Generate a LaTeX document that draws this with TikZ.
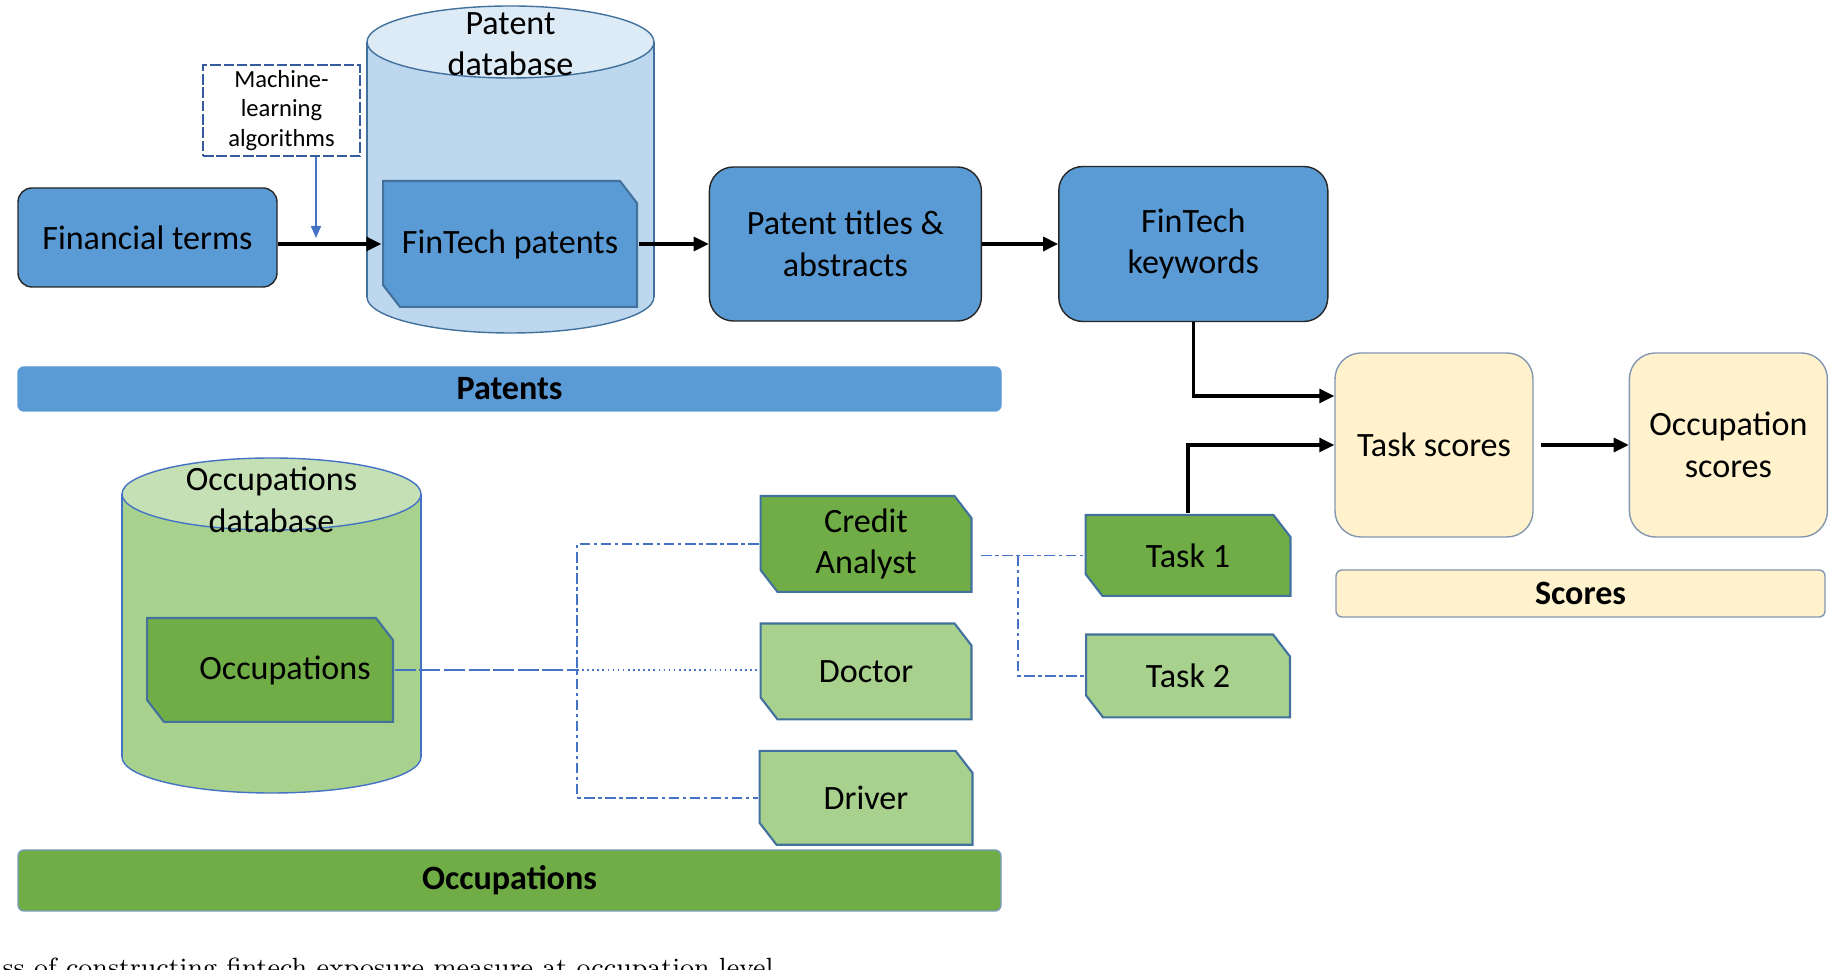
\documentclass[tikz,border=0pt]{standalone}
\usepackage{fontspec}
\newfontfamily\calibri{Carlito}
\usetikzlibrary{positioning,arrows.meta}

\definecolor{patblue}{HTML}{5B9BD5}
\definecolor{patline}{HTML}{41719C}
\definecolor{dbblue}{HTML}{BDD7EE}
\definecolor{dbtopblue}{HTML}{DDEBF7}
\definecolor{occgreen}{HTML}{70AD47}
\definecolor{lightgreen}{HTML}{A9D18E}
\definecolor{dbtopgreen}{HTML}{C5E0B4}
\definecolor{scorefill}{HTML}{FFF2CC}
\definecolor{scoreline}{HTML}{8497B0}
\definecolor{linkblue}{HTML}{4472C4}

\begin{document}
\begin{tikzpicture}[x=0.1mm,y=-0.1mm,
			>={Triangle[length=1.5mm,width=1.4mm]},
			every node/.style={
				align=center,
				inner sep=1pt,
				font=\calibri\fontsize{9.7}{11.8}\selectfont
			},
			stepbox/.style={draw=black!85,fill=patblue,rounded corners=2.4mm},
			snipbox/.style={path picture={
				\filldraw[fill=#1,draw=patline,line width=0.6pt]
					([shift={(0.3pt,-0.3pt)}]path picture bounding box.north west)
					--([shift={(-1.8mm,-0.3pt)}]path picture bounding box.north east)
					--([shift={(-0.3pt,-2.3mm)}]path picture bounding box.north east)
					--([shift={(-0.3pt,0.3pt)}]path picture bounding box.south east)
					--([shift={(1.8mm,0.3pt)}]path picture bounding box.south west)
					--([shift={(0.3pt,2.3mm)}]path picture bounding box.south west)
					--cycle;}},
			scorebox/.style={draw=scoreline,fill=scorefill,rounded corners=2.6mm,
				minimum width=19.8mm,minimum height=18.4mm},
			bar/.style={rounded corners=0.6mm,font=\calibri\bfseries\fontsize{9.7}{11.8}\selectfont},
			link/.style={linkblue,line width=0.45pt},
			dashdotlink/.style={link,dash pattern=on 3pt off 1pt on 1pt off 1pt},
			flow/.style={->,line width=0.9pt}]
			
			\useasboundingbox (0,0) rectangle (1843,970);
			
			% patent database
			\filldraw[fill=dbblue,draw=patline] (510.5,297) ellipse (143.5 and 36);
			\fill[dbblue] (367,42) rectangle (654,297);
			\draw[patline] (367,42) -- (367,297) (654,42) -- (654,297);
			\filldraw[fill=dbtopblue,draw=patline] (510.5,42) ellipse (143.5 and 36);
			\node(patdb) at (510.5,44){Patent\\database};
			
			% occupations database
			\filldraw[fill=lightgreen,draw=linkblue] (271.5,757) ellipse (149.5 and 36);
			\fill[lightgreen] (122,494) rectangle (421,757);
			\draw[linkblue] (122,494) -- (122,757) (421,494) -- (421,757);
			\filldraw[fill=dbtopgreen,draw=linkblue] (271.5,494) ellipse (149.5 and 36);
			\node(occdb) at (271.5,500){Occupations\\database};
			
			\node(fin)[stepbox,rounded corners=1.4mm,minimum width=25.9mm,minimum height=9.9mm] at (147.5,237.5){Financial terms};
			
			\node(fpat)[snipbox=patblue,minimum width=25.6mm,minimum height=12.8mm] at (510,244){FinTech patents};
			
			\node(titles)[stepbox,minimum width=27.2mm,minimum height=15.4mm,right=7mm of fpat]{Patent titles \&\\abstracts};
			
			\node(keywords)[stepbox,minimum width=26.9mm,minimum height=15.5mm,right=7.6mm of titles]{FinTech\\keywords};
			
			\node(mla)[draw=linkblue!80!black,dash pattern=on 3pt off 0.8pt,fill=white,
				minimum width=15.7mm,minimum height=9.1mm,
				font=\calibri\fontsize{7}{8.5}\selectfont] at (281.5,110.5){Machine-\\learning\\algorithms};
			
			\node(patbar)[bar,fill=patblue,draw=patblue,minimum width=98.3mm,minimum height=4.4mm] at (509.5,389){Patents};
			
			\node(tasksc)[scorebox] at (1434,445){Task scores};
			
			\node(occsc)[scorebox,right=9.5mm of tasksc]{Occupation\\scores};
			
			\node(scorebar)[bar,fill=scorefill,draw=scoreline,minimum width=48.9mm,minimum height=4.7mm] at (1580.5,593.5){Scores};
			
			\node(occ)[snipbox=occgreen,minimum width=24.8mm,minimum height=10.6mm] at (270,670){\hspace*{3mm}Occupations};
			
			\node(credit)[snipbox=occgreen,minimum width=21.3mm,minimum height=9.8mm] at (866,544){Credit\\Analyst};
			
			\node(doctor)[snipbox=lightgreen,minimum width=21.3mm,minimum height=9.8mm,below=2.8mm of credit]{Doctor};
			
			\node(driver)[snipbox=lightgreen,minimum width=21.5mm,minimum height=9.6mm,below=2.8mm of doctor]{Driver};
			
			\node(task1)[snipbox=occgreen,minimum width=20.7mm,minimum height=8.3mm] at (1188,555.5){Task 1};
			
			\node(task2)[snipbox=lightgreen,minimum width=20.6mm,minimum height=8.5mm,below=3.5mm of task1]{Task 2};
			
			\node(occbar)[bar,fill=occgreen,draw=patline!70,minimum width=98.3mm,minimum height=6.1mm] at (509.5,880.5){Occupations};
			
			\node(caption)[anchor=base west,inner sep=0pt,font=\rmfamily\fontsize{7.5}{9}\selectfont] at (2,977){ss of constructing fintech exposure measure at occupation level};
			
			\coordinate(mlend) at (316,238);
			\coordinate(occsplit) at (577,670);
			\coordinate(tasksplit) at (1018,555.5);
			
			\draw[flow](fpat.west -| fin.east)--(fpat.west);
			
			\draw[flow](fpat)--(titles);
			
			\draw[flow](titles)--(keywords);
			
			\draw[flow](keywords.south)|-([yshift=4.9mm]tasksc.west);
			
			\draw[flow](task1.north)|-(tasksc.west);
			
			\draw[flow,shorten <=2pt](tasksc)--(occsc);
			
			\draw[link,-{Triangle[length=1.2mm,width=1mm]}](mla.south -| mlend)--(mlend);
			
			\draw[link,dash pattern=on 6pt off 1pt](occ.east)--(occsplit);
			
			\draw[link,densely dotted](occsplit)--(occsplit -| doctor.west);
			
			\draw[dashdotlink](credit.west)-|(occsplit)|-(driver.west);
			
			\draw[dashdotlink]([xshift=0.8mm]credit.east |- task1.west)--(task1.west);
			
			\draw[dashdotlink](tasksplit)|-(task2.west);
			
		\end{tikzpicture}
\end{document}
